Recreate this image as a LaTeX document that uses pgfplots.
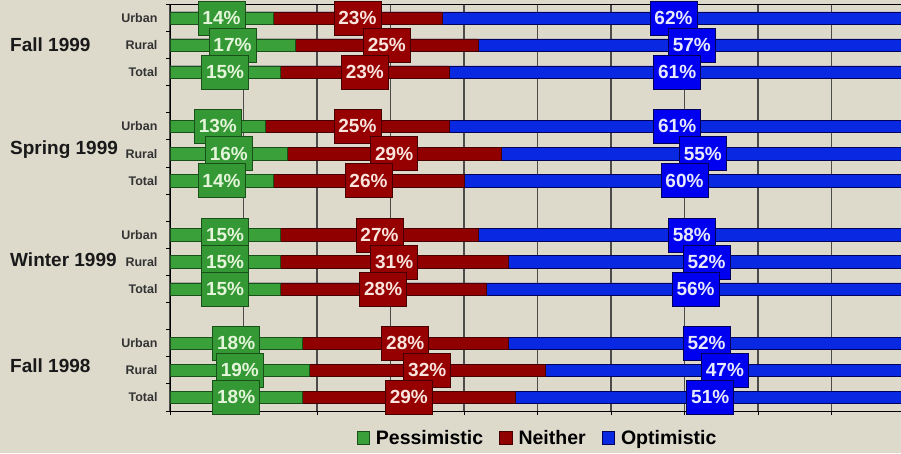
\documentclass[border=0pt]{standalone}
\usepackage{pgfplots}
\pgfplotsset{compat=1.18}
\usepackage{pgfplotstable}
\usepackage{fontspec}
\setmainfont{Liberation Sans}
\definecolor{bgc}{RGB}{221,218,204}
\definecolor{gbar}{RGB}{58,160,58}
\definecolor{gbox}{RGB}{52,152,52}
\definecolor{gedge}{RGB}{25,80,25}
\definecolor{rbar}{RGB}{145,0,0}
\definecolor{rbox}{RGB}{150,0,0}
\definecolor{redge}{RGB}{70,0,0}
\definecolor{bbar}{RGB}{8,40,225}
\definecolor{bbox}{RGB}{0,0,240}
\definecolor{bedge}{RGB}{0,0,90}
\definecolor{gtxt}{RGB}{228,245,218}
\definecolor{rtxt}{RGB}{250,228,222}
\definecolor{btxt}{RGB}{232,232,255}
\definecolor{gridc}{RGB}{75,75,75}

% y: row position (14 = top), p: pessimistic, n: neither, o: optimistic, tot: full bar (100%)
\pgfplotstableread{
y  p  n  o  tot
14 14 23 62 100
13 17 25 57 100
12 15 23 61 100
10 13 25 61 100
9  16 29 55 100
8  14 26 60 100
6  15 27 58 100
5  15 31 52 100
4  15 28 56 100
2  18 28 52 100
1  19 32 47 100
0  18 29 51 100
}\data

\begin{document}
\begin{tikzpicture}
\fill[bgc] (0pt,0pt) rectangle (901pt,453pt);
\begin{scope}
\clip (0pt,0pt) rectangle (901pt,453pt);
\begin{axis}[
  at={(170pt,42pt)}, anchor=south west,
  scale only axis, width=735pt, height=406.5pt,
  xmin=0, xmax=100, ymin=-0.5, ymax=14.5,
  clip=false,
  axis line style={black, line width=1pt},
  xtick={0,10,20,30,40,50,60,70,80,90,100}, xticklabels={},
  xmajorgrids,
  major grid style={gridc, line width=1.4pt},
  xtick pos=bottom, ytick pos=left,
  tick align=outside,
  major tick length=4pt,
  ytick={-0.5,0.5,...,14.5}, yticklabels={},
  extra y ticks={0,1,2,4,5,6,8,9,10,12,13,14},
  extra y tick labels={Total,Rural,Urban,Total,Rural,Urban,Total,Rural,Urban,Total,Rural,Urban},
  extra y tick style={major tick length=0pt,
    yticklabel style={font=\bfseries\fontsize{12.5}{13}\selectfont, text=black!80, xshift=-9pt}},
  tick style={black, line width=1pt},
  legend style={at={(0.5,-0.066)}, anchor=center, draw=none, fill=none,
    font=\bfseries\fontsize{19.5}{20}\selectfont, legend columns=3,
    /tikz/every odd column/.append style={column sep=4pt},
    /tikz/every even column/.append style={column sep=14pt}},
  legend image code/.code={\draw[#1, line width=0.8pt] (0pt,-6.5pt) rectangle (12.5pt,6pt);},
]
\addlegendimage{fill=gbar, draw=gedge}
\addlegendentry{Pessimistic}
\addlegendimage{fill=rbar, draw=redge}
\addlegendentry{Neither}
\addlegendimage{fill=bbar, draw=bedge}
\addlegendentry{Optimistic}

% bars: full bar, then neither end, then pessimistic end
\addplot[forget plot, xbar, bar width=12.5pt, bar shift=0pt, fill=bbar, draw=bedge, line width=0.5pt]
  table[x=tot, y=y] {\data};
\addplot[forget plot, xbar, bar width=12.5pt, bar shift=0pt, fill=rbar, draw=redge, line width=0.5pt]
  table[x expr=\thisrow{p}+\thisrow{n}, y=y] {\data};
\addplot[forget plot, xbar, bar width=12.5pt, bar shift=0pt, fill=gbar, draw=gedge, line width=0.5pt]
  table[x=p, y=y] {\data};

% data labels at segment centres
\pgfplotsset{
  lab/.style n args={3}{forget plot, only marks, mark=none,
    point meta=explicit symbolic,
    nodes near coords={\pgfplotspointmeta\%},
    nodes near coords align={center},
    every node near coord/.style={anchor=center, fill=#1, draw=#2, text=#3,
      line width=0.7pt, font=\bfseries\fontsize{19}{19}\selectfont,
      inner xsep=4.5pt, inner ysep=0pt, minimum height=34pt}}
}
\addplot[lab={gbox}{gedge}{gtxt}]
  table[x expr=\thisrow{p}/2, y=y, meta=p] {\data};
\addplot[lab={rbox}{redge}{rtxt}]
  table[x expr=\thisrow{p}+\thisrow{n}/2, y=y, meta=n] {\data};
\addplot[lab={bbox}{bedge}{btxt}]
  table[x expr=(\thisrow{p}+\thisrow{n}+\thisrow{tot})/2, y=y, meta=o] {\data};
\end{axis}
\begin{scope}[every node/.style={anchor=west, font=\bfseries\fontsize{19}{20}\selectfont, text=black!90, inner sep=0pt}]
\node at (10pt,408pt) {Fall 1999};
\node at (10pt,303pt) {Spring 1999};
\node at (10pt,193pt) {Winter 1999};
\node at (10pt,87pt) {Fall 1998};
\end{scope}
\end{scope}
\pgfresetboundingbox
\path[use as bounding box] (0pt,0pt) rectangle (901pt,453pt);
\end{tikzpicture}
\end{document}
